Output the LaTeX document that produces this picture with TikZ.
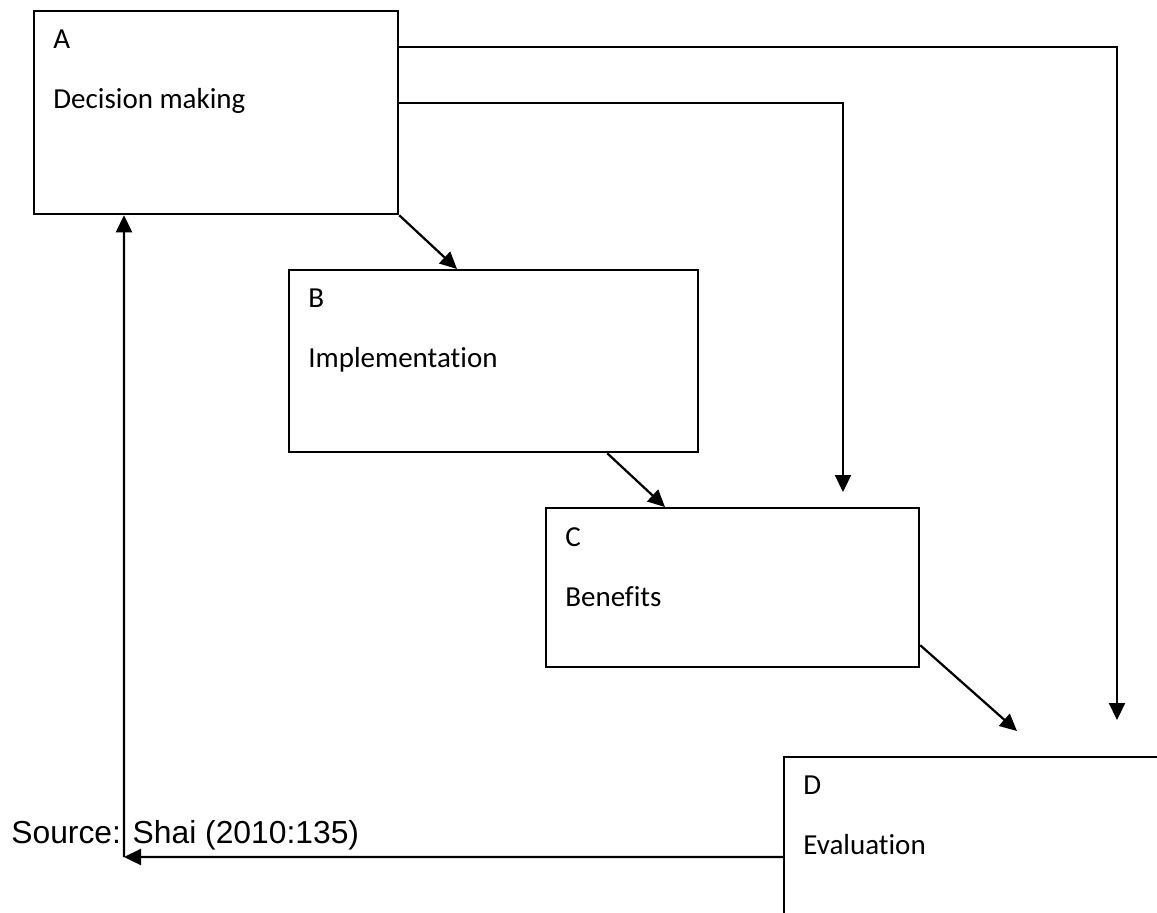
\documentclass[tikz,border=0pt]{standalone}
\usepackage{fontspec}
\setmainfont{Carlito}[Ligatures=NoCommon]
\newfontfamily\srcfont{Liberation Sans}
\usetikzlibrary{positioning,arrows.meta}

\begin{document}
\begin{tikzpicture}[x=0.2mm,y=-0.2mm,
    box/.style={draw, line width=0.45mm, inner sep=0pt},
    txt/.style={inner sep=0pt, align=left, font=\fontsize{16.5}{34.14}\selectfont},
    arr/.style={line width=0.45mm, -{Triangle[length=3.4mm,width=3.2mm]}}]
	\useasboundingbox (0,0) rectangle (1157,913);
	\node [box, anchor=north west, minimum width=72.8mm, minimum height=40.6mm] (a) at (33,10) {};
	\node [box, anchor=north west, minimum width=81.8mm, minimum height=36.4mm] (b) at (288,269) {};
	\node [box, anchor=north west, minimum width=74.6mm, minimum height=31.8mm] (c) at (545,507) {};
	\node [box, anchor=north west, minimum width=84mm, minimum height=40mm] (d) at (783,756) {};
	%
	\node [txt, below right=4mm and 4mm of a.north west] (a-txt) {A\\Decision making};
	\node [txt, below right=4mm and 4mm of b.north west] (b-txt) {B\\Implementation};
	\node [txt, below right=4mm and 4mm of c.north west] (c-txt) {C\\Benefits};
	\node [txt, below right=4mm and 4mm of d.north west] (d-txt) {D\\Evaluation};
	\node [inner sep=0pt, anchor=base west, font=\srcfont\fontsize{18.1}{22}\selectfont] (src) at (11,843) {Source: Shai (2010:135)};
	%
	\coordinate (b-in) at (457,269);
	\coordinate (c-in) at (665,507);
	\coordinate (c-top) at (843,492);
	\coordinate (d-in) at (1017,731);
	\coordinate (d-top) at (1117,720);
	\coordinate (back) at (124,857);
	%
	\draw [arr] (a.south east) -- (b-in);
	\draw [arr] ([xshift=-18.4mm]b.south east) -- (c-in);
	\draw [arr] ([yshift=4.6mm]c.south east) -- (d-in);
	\draw [arr] ([yshift=-7.4mm]a.north east) -| (d-top);
	\draw [arr] ([yshift=-18.6mm]a.north east) -| (c-top);
	\draw [arr] ([yshift=-20.2mm]d.north west) -- (back);
	\draw [arr] (back) -- ([xshift=18.2mm]a.south west);
\end{tikzpicture}
\end{document}
